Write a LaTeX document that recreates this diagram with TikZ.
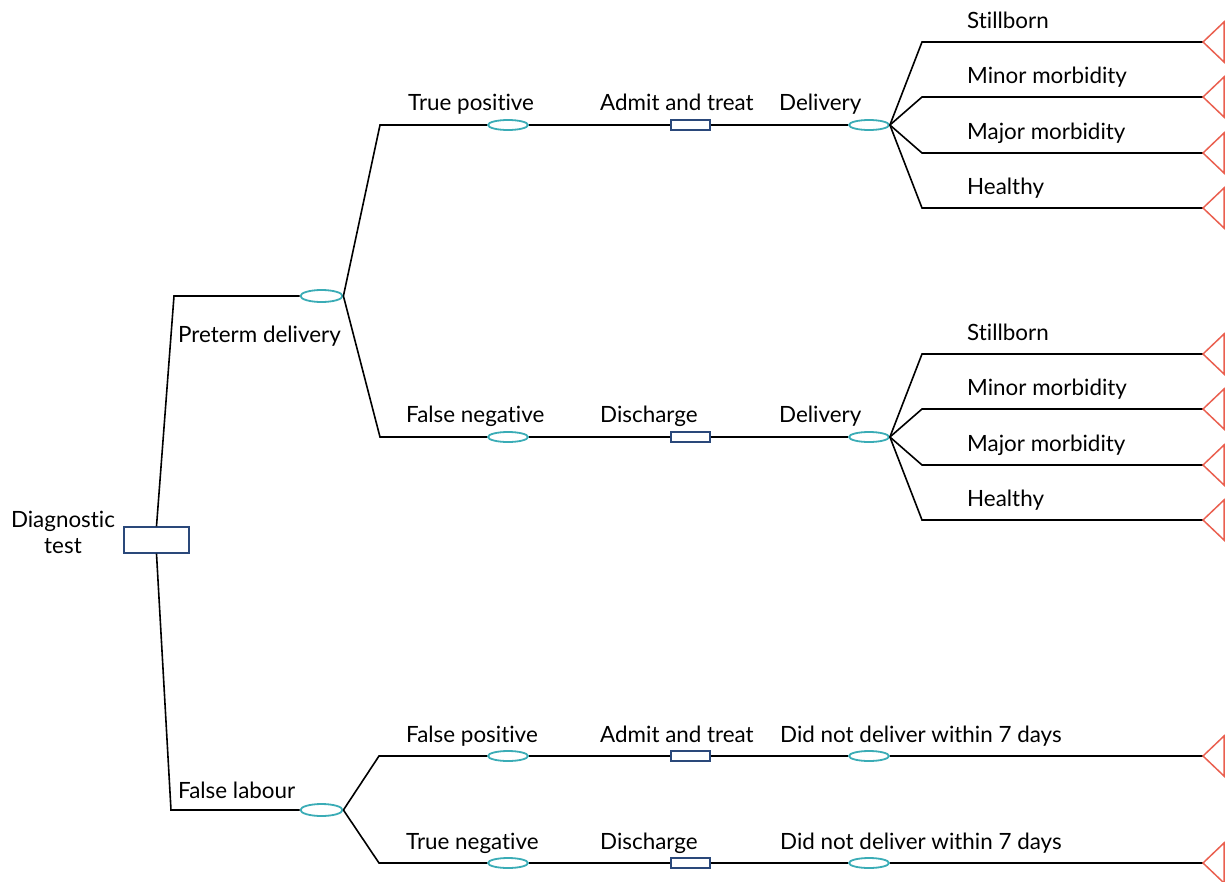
\documentclass[tikz,border=0pt]{standalone}
\usepackage{fontspec}
\setmainfont{Lato}[Ligatures={NoCommon}]
\usetikzlibrary{shapes.geometric}
\definecolor{chancec}{RGB}{58,172,182}
\definecolor{decc}{RGB}{42,72,122}
\definecolor{termc}{RGB}{234,96,80}
\tikzset{
  conn/.style={draw=black, line width=1.6pt},
  chance/.style={ellipse, draw=chancec, line width=1.8pt, fill=white, minimum width=40pt, minimum height=10pt, inner sep=0pt},
  bigchance/.style={chance, minimum width=42pt, minimum height=12pt},
  decision/.style={rectangle, draw=decc, line width=1.4pt, fill=white, minimum width=39pt, minimum height=10pt, inner sep=0pt},
  bigdecision/.style={decision, minimum width=65pt, minimum height=26pt},
  term/.style={draw=termc, line width=1.5pt, line join=miter},
  lbl/.style={font=\fontsize{22.4}{26}\selectfont, inner sep=0pt, anchor=base west},
  clbl/.style={font=\fontsize{22.4}{26}\selectfont, inner sep=0pt, anchor=base},
}
\begin{document}
\begin{tikzpicture}[x=1pt,y=-1pt]
\useasboundingbox (0,0) rectangle (1225,881);

% root
\node[bigdecision] (root) at (156.5,540) {};
\node[clbl] (rootlbl1) at (63,527) {Diagnostic};
\node[clbl] (rootlbl2) at (63,553) {test};

% level 1
\node[bigchance] (pd) at (321.5,296) {};
\node[bigchance] (fl) at (321.5,810) {};
\coordinate (pdk) at (174,296);
\coordinate (flk) at (171,810);
\draw[conn] (root.north) -- (pdk) -- (pd.west);
\draw[conn] (root.south) -- (flk) -- (fl.west);
\node[lbl] (pdlbl) at (178,342) {Preterm delivery};
\node[lbl] (fllbl) at (178,798) {False labour};

% level 2 chance nodes
\node[chance] (tp) at (508,125) {};
\node[chance] (fn) at (508,437) {};
\node[chance] (fp) at (508,756) {};
\node[chance] (tn) at (508,863) {};
\coordinate (tpk) at (380,125);
\coordinate (fnk) at (380,437);
\coordinate (fpk) at (379,756);
\coordinate (tnk) at (379,863);
\draw[conn] (pd.east) -- (tpk) -- (tp.west);
\draw[conn] (pd.east) -- (fnk) -- (fn.west);
\draw[conn] (fl.east) -- (fpk) -- (fp.west);
\draw[conn] (fl.east) -- (tnk) -- (tn.west);
\node[lbl] (tplbl) at (408,110) {True positive};
\node[lbl] (fnlbl) at (406,422) {False negative};
\node[lbl] (fplbl) at (406,742) {False positive};
\node[lbl] (tnlbl) at (406,849) {True negative};

% level 3 decisions
\node[decision] (d1) at (690.5,125) {};
\node[decision] (d2) at (690.5,437) {};
\node[decision] (d3) at (690.5,756) {};
\node[decision] (d4) at (690.5,863) {};
\draw[conn] (tp.east) -- (d1.west);
\draw[conn] (fn.east) -- (d2.west);
\draw[conn] (fp.east) -- (d3.west);
\draw[conn] (tn.east) -- (d4.west);
\node[lbl] (d1lbl) at (600,110) {Admit and treat};
\node[lbl] (d2lbl) at (600,422) {Discharge};
\node[lbl] (d3lbl) at (600,742) {Admit and treat};
\node[lbl] (d4lbl) at (600,849) {Discharge};

% level 4 chance
\node[chance] (c1) at (869,125) {};
\node[chance] (c2) at (869,437) {};
\node[chance] (c3) at (869,756) {};
\node[chance] (c4) at (869,863) {};
\draw[conn] (d1.east) -- (c1.west);
\draw[conn] (d2.east) -- (c2.west);
\draw[conn] (d3.east) -- (c3.west);
\draw[conn] (d4.east) -- (c4.west);
\node[lbl] (c1lbl) at (779,110) {Delivery};
\node[lbl] (c2lbl) at (779,422) {Delivery};
\node[lbl] (c3lbl) at (780,742) {Did not deliver within 7 days};
\node[lbl] (c4lbl) at (780,849) {Did not deliver within 7 days};

% terminal coordinates
\coordinate (ta1) at (1203,42);
\coordinate (ta2) at (1203,97);
\coordinate (ta3) at (1203,153);
\coordinate (ta4) at (1203,208);
\coordinate (tb1) at (1203,354);
\coordinate (tb2) at (1203,409);
\coordinate (tb3) at (1203,465);
\coordinate (tb4) at (1203,520);
\coordinate (tc1) at (1203,756);
\coordinate (tc2) at (1203,863);

% fan-outs
\foreach \n/\y in {a1/42,a2/97,a3/153,a4/208}{
  \coordinate (k\n) at (922,\y);
  \draw[conn] (c1.east) -- (k\n) -- (t\n);
}
\foreach \n/\y in {b1/354,b2/409,b3/465,b4/520}{
  \coordinate (k\n) at (922,\y);
  \draw[conn] (c2.east) -- (k\n) -- (t\n);
}
\draw[conn] (c3.east) -- (tc1);
\draw[conn] (c4.east) -- (tc2);

% outcome labels
\node[lbl] (la1) at (967,28) {Stillborn};
\node[lbl] (la2) at (967,83) {Minor morbidity};
\node[lbl] (la3) at (967,139) {Major morbidity};
\node[lbl] (la4) at (967,194) {Healthy};
\node[lbl] (lb1) at (967,340) {Stillborn};
\node[lbl] (lb2) at (967,395) {Minor morbidity};
\node[lbl] (lb3) at (967,451) {Major morbidity};
\node[lbl] (lb4) at (967,506) {Healthy};

% terminal triangles
\foreach \t in {ta1,ta2,ta3,ta4,tb1,tb2,tb3,tb4,tc1,tc2}{
  \draw[term] (\t) -- ++(21,-20) -- ++(0,40) -- cycle;
}
\end{tikzpicture}
\end{document}
